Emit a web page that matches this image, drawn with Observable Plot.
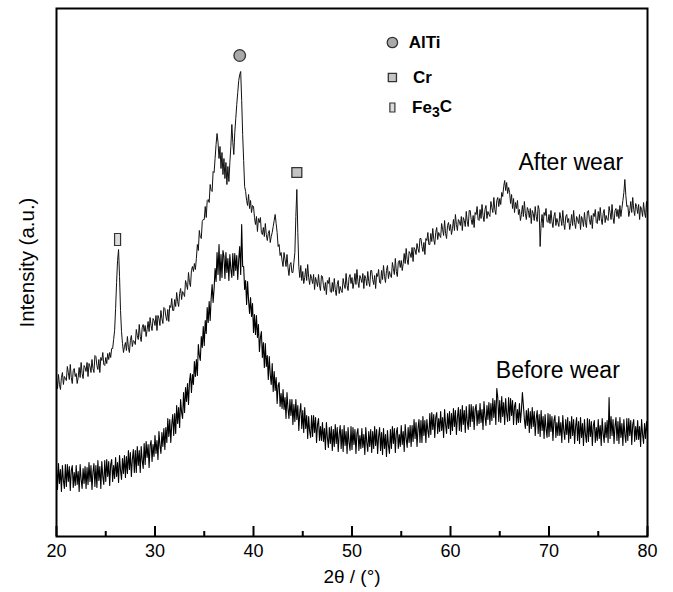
<!DOCTYPE html>
<html>
<head>
<meta charset="utf-8">
<script src="https://cdn.jsdelivr.net/npm/d3@7"></script>
<script src="https://cdn.jsdelivr.net/npm/@observablehq/plot@0.6"></script>
<style>
  html, body { margin: 0; padding: 0; background: #fff; }
  #chart { width: 673px; height: 592px; }
</style>
</head>
<body>
<div id="chart"></div>
<script>
// 2θ sampling: 20.0° to 80.0° every 0.1°
const thetaStart = 20;
const thetaStep = 0.1;

// Intensity (a.u.), one row per degree (10 samples each)
const beforeWear = [
  69,47,73,53,67,45,71,56,48,72,
  50,72,55,70,46,66,71,49,64,51,
  71,52,65,45,72,57,48,68,53,70,
  48,69,52,74,55,71,47,64,73,50,
  71,49,76,56,70,48,75,60,52,76,
  55,77,60,75,51,72,77,55,71,58,
  79,60,74,54,81,66,57,78,63,81,
  59,80,63,86,67,84,60,77,87,64,
  86,64,90,71,86,64,90,76,68,93,
  72,95,79,92,69,91,96,75,92,80,
  101,83,96,77,105,91,83,104,90,108,
  87,109,94,118,100,117,94,112,122,101,
  123,103,131,113,129,109,137,124,118,144,
  124,149,135,153,132,155,163,144,162,152,
  175,160,177,161,192,181,176,200,189,210,
  191,216,203,229,214,235,216,238,252,234,
  248,268,255,284,262,292,256,282,259,286,
  280,258,284,264,278,256,282,267,259,283,
  261,283,266,281,257,277,290,262,312,270,
  270,247,256,232,255,236,223,239,220,233,
  204,222,202,221,199,212,185,199,205,179,
  194,169,193,170,181,157,180,162,152,173,
  145,165,146,159,133,151,154,130,143,128,
  147,127,139,118,144,128,118,137,121,137,
  112,132,115,137,117,131,106,124,133,108,
  126,104,129,108,121,98,120,105,99,121,
  100,121,104,119,94,112,118,96,110,96,
  114,95,108,87,114,99,89,109,93,110,
  86,107,90,112,93,109,85,102,111,88,
  107,85,111,91,105,83,109,94,86,110,
  87,109,92,107,83,103,108,86,101,88,
  108,89,102,82,109,94,85,105,90,107,
  84,105,88,110,91,107,83,100,109,86,
  104,82,108,88,102,80,106,91,83,107,
  88,110,93,108,84,104,109,88,102,90,
  111,92,105,85,112,98,89,109,94,111,
  90,111,95,117,98,114,90,108,117,94,
  116,94,120,101,116,94,117,106,99,123,
  102,124,107,122,99,119,124,103,118,105,
  125,106,119,99,127,112,103,123,108,125,
  102,123,106,128,110,126,102,119,129,106,
  127,105,131,112,126,104,130,115,107,132,
  110,132,115,130,107,127,132,111,126,113,
  133,114,127,107,135,120,111,131,117,134,
  112,133,116,138,119,136,112,148,139,115,
  136,114,140,120,134,112,138,123,115,139,
  116,138,121,136,112,130,134,112,127,114,
  133,114,126,144,131,117,108,126,111,128,
  104,125,108,129,110,125,101,118,126,103,
  122,100,126,106,120,98,122,108,99,123,
  100,122,105,120,96,116,121,99,114,101,
  120,101,114,94,121,106,97,117,102,119,
  94,115,98,120,101,117,93,110,119,96,
  115,93,119,99,113,91,117,102,94,118,
  95,117,100,115,91,111,116,94,109,96,
  117,98,111,91,118,103,94,114,99,116,
  94,139,98,120,101,117,93,110,119,96,
  115,93,119,99,113,91,117,102,94,118,
  96,118,101,116,92,112,117,95,110,97,
  116,97,110,90,117,102,93,113,98,115,
  103
];

const afterWear = [
  156,148,162,152,147,159,164,152,160,158,
  156,170,164,157,172,159,153,166,168,160,
  163,153,159,169,159,174,163,158,171,169,
  165,174,160,173,170,164,177,168,164,181,
  180,171,167,177,164,179,176,184,172,171,
  179,173,183,177,184,179,188,188,197,206,
  228,254,276,287,260,226,205,193,184,190,
  194,186,200,189,184,196,201,190,196,195,
  192,207,201,197,212,200,195,209,212,205,
  211,200,207,215,205,219,211,206,218,216,
  211,221,206,221,218,211,226,218,213,229,
  228,220,216,227,215,231,229,238,226,226,
  237,230,244,235,230,243,248,237,245,243,
  240,256,252,247,264,254,250,266,270,265,
  273,267,278,292,286,306,299,298,315,317,
  317,330,319,336,337,334,352,346,345,365,
  364,378,392,403,394,378,390,368,384,362,
  378,358,374,352,370,355,374,390,412,394,
  382,404,418,432,444,456,462,465,436,402,
  376,350,345,336,331,342,328,336,324,331,
  330,319,312,320,305,318,314,319,304,302,
  309,300,313,302,296,303,306,294,300,304,
  310,316,322,313,304,290,292,281,284,276,
  270,284,277,270,282,269,261,272,274,264,
  264,274,284,320,347,304,270,259,271,256,
  265,253,259,268,256,272,259,252,262,258,
  253,262,247,259,255,250,262,251,246,261,
  260,251,246,254,242,256,253,259,245,244,
  254,245,258,247,241,252,256,243,250,246,
  244,258,252,248,263,251,246,259,262,253,
  259,248,254,263,252,267,255,249,261,258,
  254,263,248,261,258,251,265,255,250,266,
  266,257,252,261,248,263,260,267,254,253,
  266,257,271,260,254,266,271,258,265,261,
  259,274,268,262,278,265,260,274,276,269,
  276,266,273,283,273,288,277,272,285,283,
  279,289,275,289,287,282,293,288,284,298,
  298,290,285,294,282,298,296,304,292,292,
  303,295,308,297,292,304,309,297,304,301,
  299,313,307,301,316,303,298,311,314,306,
  312,302,308,317,306,322,312,306,317,315,
  311,320,306,319,316,310,325,315,310,326,
  326,317,312,321,309,324,322,330,317,316,
  327,318,332,321,315,327,331,318,325,322,
  320,335,329,324,339,327,322,336,339,330,
  338,332,344,340,350,356,346,354,343,349,
  344,333,342,328,338,324,334,328,336,322,
  327,316,322,331,320,335,323,317,329,326,
  319,328,313,326,323,316,330,320,315,331,
  327,290,313,322,309,324,321,328,315,314,
  322,313,326,315,309,320,324,311,318,314,
  310,324,318,311,326,313,307,320,322,314,
  318,307,313,322,311,326,314,308,320,317,
  313,322,307,320,317,310,324,314,309,325,
  326,317,312,321,308,323,320,327,314,313,
  325,316,329,318,312,323,327,314,321,317,
  316,330,324,317,332,319,313,326,328,320,
  327,318,331,320,328,336,344,357,341,330,
  331,320,326,335,324,339,327,321,333,330,
  323,332,317,330,327,320,334,324,319,335,
  323
];

// Axis ticks and labels
const majorTicks = [20, 30, 40, 50, 60, 70, 80];
const minorTicks = [25, 35, 45, 55, 65, 75];
const xLabel = "2θ / (°)";
const yLabel = "Intensity (a.u.)";

// Series name labels
const seriesNames = ["After wear", "Before wear"];
const seriesLabelX = [66.9, 64.6];
const seriesLabelY = [374, 166];

// Phase markers on peaks
const phaseNames = ["AlTi", "Cr", "Fe3C"];
const peakTheta = [38.6, 44.4, 26.2];
const peakMarkY = [481, 364, 297];
const legendTheta = [54.1, 54.1, 54.1];
const legendY = [494, 459, 429];
const legendTextTheta = [55.75, 56.2, 56.1];

const toRows = (vals) => vals.map((v, i) => ({t: +(thetaStart + i * thetaStep).toFixed(1), v}));
const beforeData = toRows(beforeWear);
const afterData = toRows(afterWear);
const seriesLabels = seriesNames.map((s, i) => ({s, x: seriesLabelX[i], y: seriesLabelY[i]}));
const phases = phaseNames.map((p, i) => ({p, x: peakTheta[i], y: peakMarkY[i], lx: legendTheta[i], ly: legendY[i], tx: legendTextTheta[i]}));

const barBig = {draw(ctx) { ctx.rect(-3, -6, 6, 12); }};
const barSmall = {draw(ctx) { ctx.rect(-2.5, -4.5, 5, 9); }};

const font = "'Liberation Sans', Arial, Helvetica, sans-serif";

const chart = Plot.plot({
  width: 673,
  height: 592,
  marginLeft: 56,
  marginRight: 26,
  marginTop: 8,
  marginBottom: 56,
  x: {domain: [20, 80]},
  y: {domain: [0, 528], axis: null},
  style: {fontFamily: font, color: "#000", background: "#fff", overflow: "visible"},
  marks: [
    Plot.line(afterData, {x: "t", y: "v", stroke: "#111", strokeWidth: 1}),
    Plot.line(beforeData, {x: "t", y: "v", stroke: "#000", strokeWidth: 1.1}),
    Plot.frame({stroke: "#000", strokeWidth: 2}),
    Plot.ruleX(majorTicks, {x: d => d, y1: 0, y2: 10, stroke: "#000", strokeWidth: 2}),
    Plot.ruleX(minorTicks, {x: d => d, y1: 0, y2: 5, stroke: "#000", strokeWidth: 2}),
    Plot.axisX({ticks: majorTicks, tickSize: 0, tickPadding: 8, fontSize: 18, label: null, tickFormat: d => String(d)}),
    Plot.text([xLabel], {frameAnchor: "bottom", dy: 46, fontSize: 19, fill: "#000"}),
    Plot.text([yLabel], {frameAnchor: "left", textAnchor: "middle", rotate: -90, dx: -29, dy: -10, fontSize: 20.5, fill: "#000"}),
    Plot.text(seriesLabels, {x: "x", y: "y", text: "s", textAnchor: "start", fontSize: 23, fill: "#000"}),
    // peak markers
    Plot.dot(phases.filter(d => d.p === "AlTi"), {x: "x", y: "y", symbol: "circle", r: 5.8, fill: "#a9a9a9", stroke: "#333", strokeWidth: 1.3}),
    Plot.dot(phases.filter(d => d.p === "Cr"), {x: "x", y: "y", symbol: "square", r: 5.6, fill: "#c4c4c4", stroke: "#333", strokeWidth: 1.3}),
    Plot.dot(phases.filter(d => d.p === "Fe3C"), {x: "x", y: "y", symbol: barBig, fill: "#dcdcdc", stroke: "#333", strokeWidth: 1.2}),
    // legend
    Plot.dot(phases.filter(d => d.p === "AlTi"), {x: "lx", y: "ly", symbol: "circle", r: 5.2, fill: "#a9a9a9", stroke: "#333", strokeWidth: 1.3}),
    Plot.dot(phases.filter(d => d.p === "Cr"), {x: "lx", y: "ly", symbol: "square", r: 4.6, fill: "#c4c4c4", stroke: "#333", strokeWidth: 1.3}),
    Plot.dot(phases.filter(d => d.p === "Fe3C"), {x: "lx", y: "ly", symbol: barSmall, fill: "#dcdcdc", stroke: "#333", strokeWidth: 1.2}),
    Plot.text(phases, {x: "tx", y: "ly", text: "p", textAnchor: "start", fontSize: 17, fontWeight: "bold", fill: "#000"})
  ]
});

// subscript for Fe3C
d3.select(chart).selectAll("text").each(function() {
  if (this.textContent === "Fe3C") {
    const t = d3.select(this);
    t.text("Fe");
    t.append("tspan").attr("dy", "0.3em").attr("font-size", "14").text("3");
    t.append("tspan").attr("dy", "-0.3em").text("C");
  }
});

document.getElementById("chart").appendChild(chart);
</script>
</body>
</html>
